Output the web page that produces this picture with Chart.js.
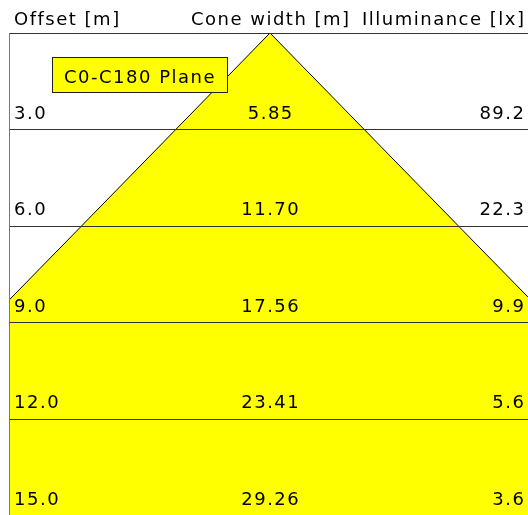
<!DOCTYPE html>
<html>
<head>
<meta charset="utf-8">
<script src="https://cdn.jsdelivr.net/npm/chart.js@4"></script>
<style>
html,body{margin:0;padding:0;background:#fff;overflow:hidden;}
#wrap{width:528px;height:515px;overflow:hidden;}
</style>
</head>
<body>
<div id="wrap"><canvas id="c" width="528" height="516"></canvas></div>
<script>
// Data
const offsets = [3, 6, 9, 12, 15];                  // Offset [m]
const coneWidths = [5.85, 11.70, 17.56, 23.41, 29.26]; // Cone width [m]
const illuminance = [89.2, 22.3, 9.9, 5.6, 3.6];     // Illuminance [lx]
const headers = ['Offset [m]', 'Cone width [m]', 'Illuminance [lx]'];
const planeLabel = 'C0-C180 Plane';

// Cone outline built from the data: left edge, apex at offset 0, right edge
const conePoints = [];
for (let i = offsets.length - 1; i >= 0; i--) conePoints.push({x: -coneWidths[i] / 2, y: offsets[i]});
conePoints.push({x: 0, y: 0});
for (let i = 0; i < offsets.length; i++) conePoints.push({x: coneWidths[i] / 2, y: offsets[i]});

const FONT = '18px "DejaVu Sans"';
const SP = 1.5;

function txt(ctx, s, x, y, align) {
  ctx.save();
  ctx.font = FONT;
  try { ctx.letterSpacing = SP + 'px'; } catch (e) {}
  ctx.fillStyle = '#000';
  ctx.textBaseline = 'alphabetic';
  let w = ctx.measureText(s).width;
  let sx = x;
  if (align === 'center') sx = x - (w - SP) / 2;
  else if (align === 'right') sx = x - (w - SP);
  ctx.textAlign = 'left';
  ctx.fillText(s, sx, y);
  ctx.restore();
}

const labelsPlugin = {
  id: 'labels',
  afterDraw(chart) {
    const ctx = chart.ctx;
    const xs = chart.scales.x, ys = chart.scales.y;
    const ca = chart.chartArea;
    const cx = xs.getPixelForValue(0);
    // headers
    txt(ctx, headers[0], ca.left + 5, 25, 'left');
    txt(ctx, headers[1], cx, 25, 'center');
    txt(ctx, headers[2], ca.right - 4, 25, 'right');
    // row labels
    for (let i = 0; i < offsets.length; i++) {
      const y = ys.getPixelForValue(offsets[i]) - 11;
      txt(ctx, offsets[i].toFixed(1), ca.left + 5, y, 'left');
      txt(ctx, coneWidths[i].toFixed(2), cx, y, 'center');
      txt(ctx, illuminance[i].toFixed(1), ca.right - 4, y, 'right');
    }
    // plane label box
    ctx.save();
    ctx.fillStyle = '#ffff00';
    ctx.strokeStyle = '#222';
    ctx.lineWidth = 1;
    ctx.fillRect(52, 57, 176, 36);
    ctx.strokeRect(52.5, 57.5, 175, 35);
    ctx.restore();
    txt(ctx, planeLabel, 64, 83, 'left');
  }
};

new Chart(document.getElementById('c'), {
  type: 'scatter',
  data: {
    datasets: [{
      label: planeLabel,
      data: conePoints,
      showLine: true,
      pointRadius: 0,
      borderColor: '#000',
      borderWidth: 1,
      backgroundColor: '#ffff00',
      fill: 'start',
      tension: 0
    }]
  },
  options: {
    responsive: false,
    devicePixelRatio: 1,
    animation: false,
    layout: {padding: {top: 33, left: 9, right: 0, bottom: 0}},
    plugins: {legend: {display: false}, tooltip: {enabled: false}},
    scales: {
      x: {
        type: 'linear', position: 'top', min: -8.093, max: 8.0,
        ticks: {display: false},
        grid: {display: true, color: 'rgba(0,0,0,0)', drawTicks: false},
        border: {display: true, color: '#000', width: 1, z: 1}
      },
      y: {
        type: 'linear', position: 'left', reverse: true, min: 0, max: 15,
        ticks: {display: false, stepSize: 3},
        grid: {display: true, color: '#333', lineWidth: 1, drawTicks: false, z: 1},
        border: {display: true, color: '#777', width: 1, z: 1}
      }
    }
  },
  plugins: [labelsPlugin]
});
</script>
</body>
</html>
